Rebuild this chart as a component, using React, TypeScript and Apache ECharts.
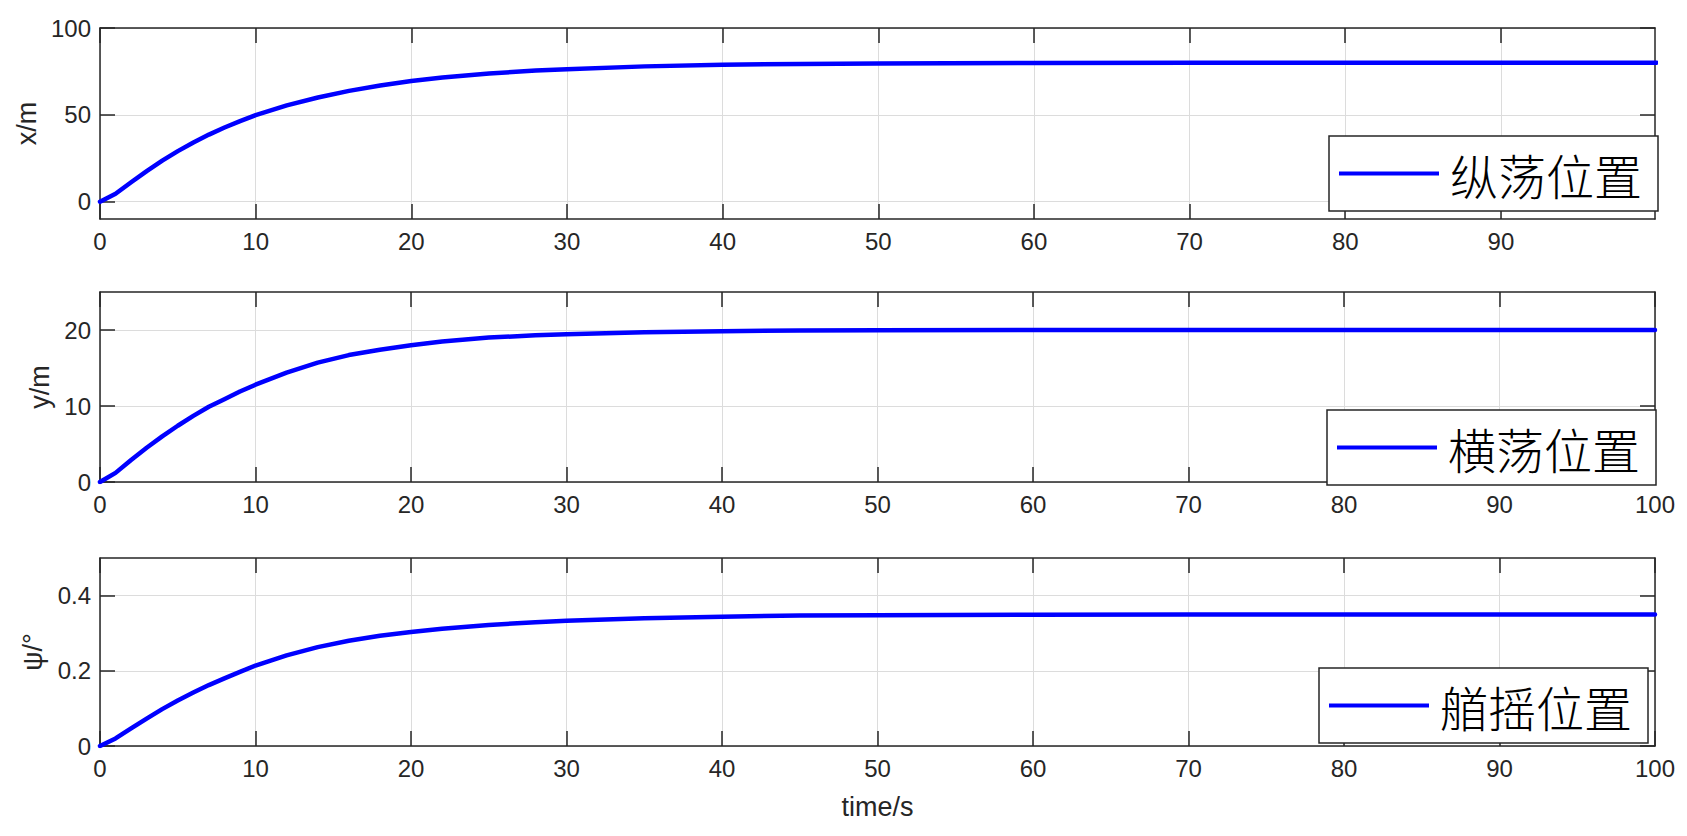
import React, { useEffect, useRef } from "react";
import * as echarts from "echarts";

const T = [0, 1, 2, 3, 4, 5, 6, 7, 8, 9, 10, 12, 14, 16, 18, 20, 22, 25, 28, 30, 35, 40, 45, 50, 60, 70, 80, 90, 100];
const X_POS = [0, 4.5, 11.2, 17.6, 23.6, 29.1, 34.1, 38.6, 42.7, 46.4, 49.8, 55.4, 60.0, 63.8, 66.9, 69.5, 71.5, 73.8, 75.5, 76.3, 77.9, 78.8, 79.3, 79.6, 79.85, 79.95, 80, 80, 80];
const Y_POS = [0, 1.2, 2.9, 4.5, 6.0, 7.4, 8.7, 9.9, 10.9, 11.9, 12.8, 14.4, 15.7, 16.7, 17.4, 18.0, 18.5, 19.0, 19.3, 19.45, 19.7, 19.85, 19.92, 19.96, 19.99, 20, 20, 20, 20];
const PSI = [0, 0.02, 0.047, 0.073, 0.098, 0.121, 0.142, 0.162, 0.18, 0.197, 0.214, 0.241, 0.263, 0.28, 0.293, 0.303, 0.312, 0.322, 0.329, 0.333, 0.34, 0.344, 0.347, 0.348, 0.349, 0.35, 0.35, 0.35, 0.35];

const SERIES_NAMES = ["纵荡位置", "横荡位置", "艏摇位置"];
const Y_NAMES = ["x/m", "y/m", "ψ/°"];
const X_NAME = "time/s";
const X_TICKS_TOP = [0, 10, 20, 30, 40, 50, 60, 70, 80, 90];
const X_TICKS = [0, 10, 20, 30, 40, 50, 60, 70, 80, 90, 100];
const Y_TICKS = [[0, 50, 100], [0, 10, 20], [0, 0.2, 0.4]];
const Y_RANGES = [[-10, 100], [0, 25], [0, 0.5]];
const X_MAX = [99.9, 100, 100];

const AXIS_COLOR = "#262626";
const GRID_COLOR = "#dcdcdc";
const LINE_COLOR = "#0000ff";
const FONT = "'Liberation Sans', Arial, sans-serif";
const CJK = "'Noto Sans CJK SC', sans-serif";

export default function App() {
  const ref = useRef<HTMLDivElement>(null);
  useEffect(() => {
    if (!ref.current) return;
    const chart = echarts.init(ref.current, null, { renderer: "svg" });
    const grids = [
      { left: 100, top: 28, width: 1555, height: 191 },
      { left: 100, top: 292, width: 1555, height: 190 },
      { left: 100, top: 558, width: 1555, height: 188 },
    ];
    const legendPos = [
      { left: 1329, top: 136 },
      { left: 1327, top: 410 },
      { left: 1319, top: 668 },
    ];
    const yGaps = [57, 42, 47];
    const datas = [X_POS, Y_POS, PSI];

    const xAxis: any[] = [];
    const yAxis: any[] = [];
    const series: any[] = [];
    const legend: any[] = [];
    const lineStyle = { color: AXIS_COLOR, width: 1.5 };

    for (let i = 0; i < 3; i++) {
      const xt = i === 0 ? X_TICKS_TOP : X_TICKS;
      xAxis.push({
        type: "value",
        gridIndex: i,
        position: "bottom",
        min: 0,
        max: X_MAX[i],
        name: i === 2 ? X_NAME : "",
        nameLocation: "middle",
        nameGap: 47,
        nameTextStyle: { fontFamily: FONT, fontSize: 27, color: AXIS_COLOR },
        axisLine: { show: true, onZero: false, lineStyle },
        axisTick: { show: true, inside: true, length: 15, customValues: xt, lineStyle },
        axisLabel: { show: true, customValues: xt, fontFamily: FONT, fontSize: 24, color: AXIS_COLOR, margin: 10 },
        splitLine: { show: true, lineStyle: { color: GRID_COLOR, width: 1 } },
      });
      xAxis.push({
        type: "value",
        gridIndex: i,
        position: "top",
        min: 0,
        max: X_MAX[i],
        axisLine: { show: true, onZero: false, lineStyle },
        axisTick: { show: true, inside: true, length: 15, customValues: xt, lineStyle },
        axisLabel: { show: false },
        splitLine: { show: false },
      });
      yAxis.push({
        type: "value",
        gridIndex: i,
        position: "left",
        min: Y_RANGES[i][0],
        max: Y_RANGES[i][1],
        name: Y_NAMES[i],
        nameLocation: "middle",
        nameGap: yGaps[i],
        nameTextStyle: { fontFamily: FONT, fontSize: 27, color: AXIS_COLOR },
        axisLine: { show: true, onZero: false, lineStyle },
        axisTick: { show: true, inside: true, length: 15, customValues: Y_TICKS[i], lineStyle },
        axisLabel: { show: true, customValues: Y_TICKS[i], fontFamily: FONT, fontSize: 24, color: AXIS_COLOR, margin: 9 },
        splitLine: { show: true, lineStyle: { color: GRID_COLOR, width: 1 } },
      });
      yAxis.push({
        type: "value",
        gridIndex: i,
        position: "right",
        min: Y_RANGES[i][0],
        max: Y_RANGES[i][1],
        axisLine: { show: true, onZero: false, lineStyle },
        axisTick: { show: true, inside: true, length: 15, customValues: Y_TICKS[i], lineStyle },
        axisLabel: { show: false },
        splitLine: { show: false },
      });
      series.push({
        type: "line",
        name: SERIES_NAMES[i],
        xAxisIndex: i * 2,
        yAxisIndex: i * 2,
        data: T.map((t, k) => [t, datas[i][k]]),
        showSymbol: false,
        smooth: false,
        lineStyle: { color: LINE_COLOR, width: 4.5, join: "round", cap: "round" },
        itemStyle: { color: LINE_COLOR },
        z: 3,
      });
      legend.push({
        data: [SERIES_NAMES[i]],
        left: legendPos[i].left,
        top: legendPos[i].top,
        orient: "horizontal",
        icon: "rect",
        itemWidth: 100,
        itemHeight: 4,
        padding: [10, 16, 10, 10],
        backgroundColor: "#ffffff",
        borderColor: AXIS_COLOR,
        borderWidth: 1.5,
        selectedMode: false,
        textStyle: { fontFamily: CJK, fontSize: 48, fontWeight: 300, color: "#000000", lineHeight: 55, padding: [0, 0, 0, 6] },
        z: 10,
      });
    }

    chart.setOption({
      animation: false,
      backgroundColor: "#ffffff",
      grid: grids.map((g) => ({ ...g, containLabel: false })),
      xAxis,
      yAxis,
      series,
      legend,
    });
    return () => chart.dispose();
  }, []);
  return (
    <div
      ref={ref}
      style={{ position: "absolute", left: 0, top: 0, width: 1687, height: 836 }}
    />
  );
}
